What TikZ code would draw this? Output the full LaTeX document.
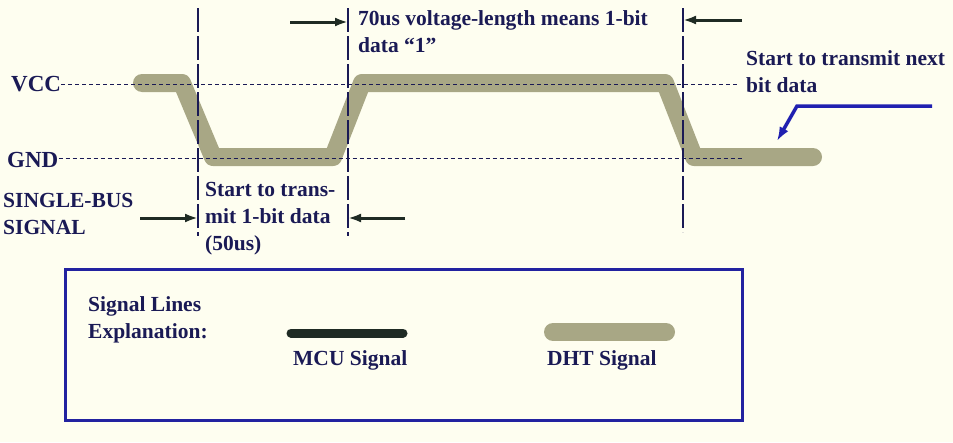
\documentclass[tikz,border=0pt]{standalone}
\usepackage{fontspec}
\setmainfont{Liberation Serif}
\usetikzlibrary{arrows.meta}

\definecolor{paper}{HTML}{FEFEF0}
\definecolor{ink}{HTML}{1A1A55}
\definecolor{dhtgray}{HTML}{A8A785}
\definecolor{mcugreen}{HTML}{1F2B24}
\definecolor{pointblue}{HTML}{2020B0}
\definecolor{boxblue}{HTML}{2222A0}

\tikzset{
  txt/.style={font=\bfseries\fontsize{21.5}{27}\selectfont, text=ink, inner sep=0pt, align=left, anchor=base west},
  big/.style={font=\bfseries\fontsize{23}{27}\selectfont},
  level/.style={ink, line width=0.8pt, dash pattern=on 4pt off 3pt},
  edge/.style={ink, line width=1.2pt, dash pattern=on 24pt off 4pt},
  dimarrow/.style={mcugreen, line width=3pt, -{Latex[length=13pt,width=9pt]}},
  dhtline/.style={dhtgray, line width=18pt, line cap=round, line join=round},
  mculine/.style={mcugreen, line width=9pt, line cap=round},
}

\begin{document}
\begin{tikzpicture}[x=1pt,y=-1pt]
  \fill[paper] (0,0) rectangle (953,442);
  \useasboundingbox (0,0) rectangle (953,442);
  % DHT signal
  \draw[dhtline] (142,83) -- (182,83) -- (213,157) -- (333,157) -- (362,83) -- (665,83) -- (694,157) -- (813,157);
  % Voltage levels
  \node[txt, big] (vcc) at (11,91) {VCC};
  \node[txt, big] (gnd) at (7,167) {GND};
  \coordinate (vccend) at (737,84);
  \coordinate (gndend) at (742,158);
  \draw[level] (vcc.east |- vccend) -- (vccend);
  \draw[level] (gnd.east |- gndend) -- (gndend);
  % Bit boundaries
  \foreach \n/\x/\b in {a/198/236,b/348/236,c/683/232} {
    \coordinate (top\n) at (\x,8);
    \coordinate (bot\n) at (\x,\b);
    \draw[edge] (top\n) -- (bot\n);
  }
  % Duration markers
  \coordinate (hi1) at (290,22);
  \coordinate (hi2) at (742,20);
  \coordinate (lo1) at (140,218);
  \coordinate (lo2) at (405,218);
  \draw[dimarrow] (hi1) -- (hi1 -| topb);
  \draw[dimarrow] (hi2) -- (hi2 -| topc);
  \draw[dimarrow] (lo1) -- (lo1 -| topa);
  \draw[dimarrow] (lo2) -- (lo2 -| topb);
  % Labels (base = last line)
  \node[txt] (high) at (358,52) {70us voltage-length means 1-bit\\data “1”};
  \node[txt] (low) at (205,250) {Start to trans-\\mit 1-bit data\\(50us)};
  \node[txt] (bus) at (3,234) {SINGLE-BUS\\SIGNAL};
  \node[txt] (next) at (746,92) {Start to transmit next\\bit data};
  % Pointer to next bit
  \coordinate (ptr) at (932,106);
  \draw[pointblue, line width=3.5pt, -{Latex[length=14pt,width=10pt]}] (ptr) -- (797,106) -- (777,141);
  % Legend
  \draw[boxblue, line width=3pt] (65,269) rectangle (742,420);
  \node[txt] (legend) at (88,338) {Signal Lines\\Explanation:};
  \node[txt] (mcu) at (293,365) {MCU Signal};
  \node[txt] (dht) at (547,365) {DHT Signal};
  \draw[mculine] (291,333) -- (403,333);
  \draw[dhtline] (553,332) -- (666,332);
\end{tikzpicture}
\end{document}
